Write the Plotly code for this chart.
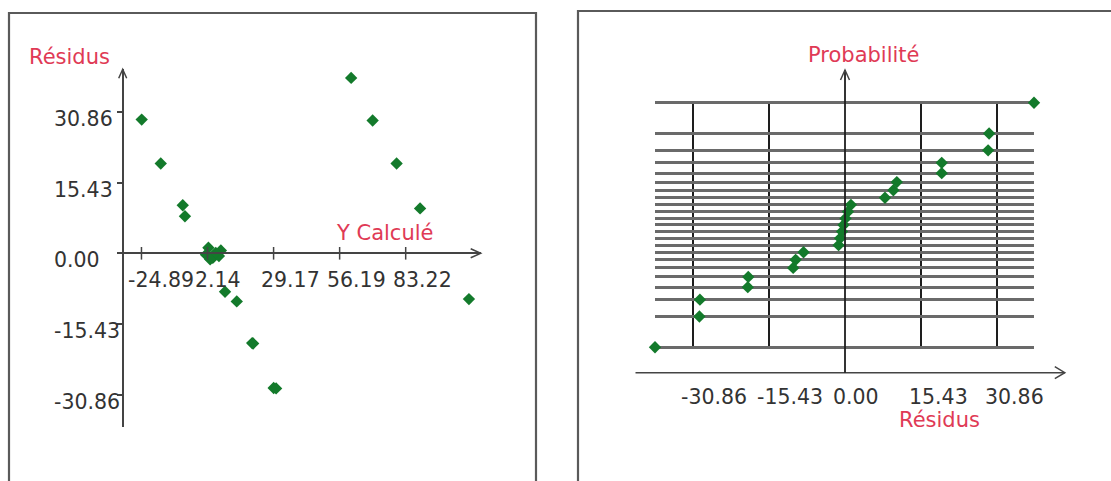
import plotly.graph_objects as go

# ---------------- data ----------------
# left chart : residuals vs fitted values
y_calcule = [-24.8, -17.0, -8.0, -7.1, 2.5, 1.5, 7.6, 4.3, 6.8, 5.5, 3.2,
             9.3, 14.1, 20.4, 20.8, 29.2, 30.2, 45.4, 60.9, 69.7, 79.5, 89.1, 109.1]
residus = [29.2, 19.6, 10.5, 8.1, 1.2, -0.3, 0.6, -1.0, -0.6, 0.1, -1.3,
           -8.4, -10.5, -19.6, -19.7, -29.4, -29.5, -38.5, 38.3, 29.0, 19.6, 9.8, -10.0]

# right chart : normal probability plot (normal scores of the ranked residuals)
scores_normaux = [-2.019, -1.512, -1.233, -1.027, -0.857, -0.709, -0.575, -0.451,
                  -0.333, -0.220, -0.109, 0.0, 0.109, 0.220, 0.333, 0.451,
                  0.575, 0.709, 0.857, 1.027, 1.233, 1.512, 2.019]

# tick values / labels
left_xticks = [-24.89, 2.14, 29.17, 56.19, 83.22]
left_xlabels = ["-24.89", "2.14", "29.17", "56.19", "83.22"]
left_yticks = [30.86, 15.43, 0.0, -15.43, -30.86]
left_ylabels = ["30.86", "15.43", "0.00", "-15.43", "-30.86"]
right_xticks = [-30.86, -15.43, 0.0, 15.43, 30.86]
right_xlabels = ["-30.86", "-15.43", "0.00", "15.43", "30.86"]
right_grid_x = [-30.86, -15.43, 15.43, 30.86]

residus_tries = sorted(residus)

# ---------------- layout helpers (pixels -> paper) ----------------
W, H = 1111, 481


def fx(p):
    return p / W


def fy(p):
    return 1 - p / H


FONT = "DejaVu Sans"
TXT = "#333333"
RED = "#e03a55"
GREEN = "#137a2b"
AXC = "#444444"
TICK_SIZE = 20.5
TITLE_SIZE = 21

# left chart mapping
L_X0, L_SX = 202.3, 2.444     # pixel of x=0, px per unit
L_Y0, L_SY = 253.3, 4.58      # pixel of y=0, px per unit
L_LEFT, L_RIGHT = 119.3, 480.7
L_TOP, L_BOT = 69.3, 427.0
L_YAX = 122.7

# right chart mapping
R_X0, R_SX = 845.0, 4.935
R_Y0, R_SY = 225.0, 60.53
R_AXY = 372.7
R_AXL, R_AXR = 635.5, 1064.8
R_YTOP = 70.0

fig = go.Figure()

# left points
fig.add_trace(go.Scatter(
    x=y_calcule, y=residus, mode="markers", xaxis="x", yaxis="y",
    marker=dict(symbol="diamond", size=9.5, color=GREEN),
    cliponaxis=False, hoverinfo="x+y"))
# left x-axis crossing ticks
fig.add_trace(go.Scatter(
    x=left_xticks, y=[0] * len(left_xticks), mode="markers", xaxis="x", yaxis="y",
    marker=dict(symbol="line-ns", size=9, line=dict(width=1.5, color=AXC)),
    cliponaxis=False, hoverinfo="skip"))
# right points
fig.add_trace(go.Scatter(
    x=residus_tries, y=scores_normaux, mode="markers", xaxis="x2", yaxis="y2",
    marker=dict(symbol="diamond", size=9.5, color=GREEN),
    cliponaxis=False, hoverinfo="x+y"))

# ----- axes -----
lx_range = [(L_LEFT - L_X0) / L_SX, (L_RIGHT - L_X0) / L_SX]
ly_range = [(L_Y0 - L_BOT) / L_SY, (L_Y0 - L_TOP) / L_SY]

rmin, rmax = min(residus_tries), max(residus_tries)
zmin, zmax = min(scores_normaux) - 0.025, max(scores_normaux) + 0.025

layout = dict(
    width=W, height=H, margin=dict(l=0, r=0, t=0, b=0, pad=0),
    paper_bgcolor="white", plot_bgcolor="rgba(0,0,0,0)", showlegend=False,
    font=dict(family=FONT, size=TICK_SIZE, color=TXT),
    xaxis=dict(domain=[fx(L_LEFT), fx(L_RIGHT)], range=lx_range, anchor="free",
               position=fy(L_Y0), showline=True, linecolor=AXC, linewidth=1.5,
               showgrid=False, zeroline=False, showticklabels=False, ticks=""),
    yaxis=dict(domain=[fy(L_BOT), fy(L_TOP)], range=ly_range, anchor="free",
               position=fx(L_YAX), showline=True, linecolor=AXC, linewidth=1.5,
               showgrid=False, zeroline=False, showticklabels=False,
               ticks="outside", ticklen=5, tickwidth=1.5, tickcolor=AXC,
               tickmode="array", tickvals=left_yticks),
    xaxis2=dict(domain=[fx(R_X0 + rmin * R_SX), fx(R_X0 + rmax * R_SX)],
                range=[rmin, rmax], anchor="y2", showline=False,
                showgrid=True, gridcolor="#1e1e1e", gridwidth=2,
                tickmode="array", tickvals=right_grid_x,
                zeroline=False, showticklabels=False, ticks=""),
    yaxis2=dict(domain=[fy(R_Y0 - zmin * R_SY), fy(R_Y0 - zmax * R_SY)],
                range=[zmin, zmax], anchor="x2", showline=False,
                showgrid=True, gridcolor="#6a6a6a", gridwidth=2.5,
                tickmode="array", tickvals=scores_normaux,
                zeroline=False, showticklabels=False, ticks=""),
)
fig.update_layout(**layout)

# ----- frames, axis lines, arrows -----
shapes = []
shapes.append(dict(type="rect", xref="paper", yref="paper",
                   x0=fx(9), x1=fx(536), y0=fy(13), y1=fy(495),
                   line=dict(color="#5a5a5a", width=2.2)))
shapes.append(dict(type="rect", xref="paper", yref="paper",
                   x0=fx(578), x1=fx(1125), y0=fy(11), y1=fy(495),
                   line=dict(color="#5a5a5a", width=2.2)))


def chevron(pts):
    d = "M %f,%f L %f,%f L %f,%f" % tuple(v for p in pts for v in (fx(p[0]), fy(p[1])))
    return dict(type="path", xref="paper", yref="paper", path=d,
                line=dict(color=AXC, width=1.5))


# left arrows
shapes.append(chevron([(L_RIGHT - 10, L_Y0 - 4.5), (L_RIGHT, L_Y0), (L_RIGHT - 10, L_Y0 + 4.5)]))
shapes.append(chevron([(L_YAX - 4, L_TOP + 9), (L_YAX, L_TOP), (L_YAX + 4, L_TOP + 9)]))
# right axis lines
shapes.append(dict(type="line", xref="paper", yref="paper",
                   x0=fx(R_AXL), x1=fx(R_AXR), y0=fy(R_AXY), y1=fy(R_AXY),
                   line=dict(color=AXC, width=1.6)))
shapes.append(dict(type="line", xref="x2", yref="paper",
                   x0=0, x1=0, y0=fy(R_AXY), y1=fy(R_YTOP),
                   line=dict(color="#1e1e1e", width=1.8)))
shapes.append(chevron([(R_AXR - 10, R_AXY - 6), (R_AXR, R_AXY), (R_AXR - 10, R_AXY + 6)]))
shapes.append(chevron([(R_X0 - 4.5, R_YTOP + 10), (R_X0, R_YTOP), (R_X0 + 4.5, R_YTOP + 10)]))
fig.update_layout(shapes=shapes)

# ----- texts -----
ann = []
for v, t in zip(left_xticks, left_xlabels):
    ann.append(dict(x=v, xref="x", y=fy(279.5), yref="paper", text=t,
                    showarrow=False, xanchor="left", yanchor="middle", xshift=-15,
                    font=dict(family=FONT, size=TICK_SIZE, color=TXT)))
for v, t in zip(left_yticks, left_ylabels):
    ann.append(dict(x=fx(52), xref="paper", y=v, yref="y", text=t,
                    showarrow=False, xanchor="left", yanchor="middle", yshift=-7,
                    font=dict(family=FONT, size=TICK_SIZE, color=TXT)))
for v, t in zip(right_xticks, right_xlabels):
    ann.append(dict(x=v, xref="x2", y=fy(397.0), yref="paper", text=t,
                    showarrow=False, xanchor="left", yanchor="middle", xshift=-14,
                    font=dict(family=FONT, size=TICK_SIZE, color=TXT)))

titles = [("Résidus", 69.5, 56.7), ("Y Calculé", 384.5, 233.0),
          ("Probabilité", 864.0, 55.0), ("Résidus", 939.0, 420.0)]
for t, px, py in titles:
    ann.append(dict(x=fx(px), y=fy(py), xref="paper", yref="paper", text=t,
                    showarrow=False, xanchor="center", yanchor="middle",
                    font=dict(family=FONT, size=TITLE_SIZE, color=RED)))
fig.update_layout(annotations=ann)

fig.write_html("out.html", include_plotlyjs=True, full_html=True,
               config={"displayModeBar": False},
               post_script="document.body.style.margin='0';document.body.style.overflow='hidden';")
